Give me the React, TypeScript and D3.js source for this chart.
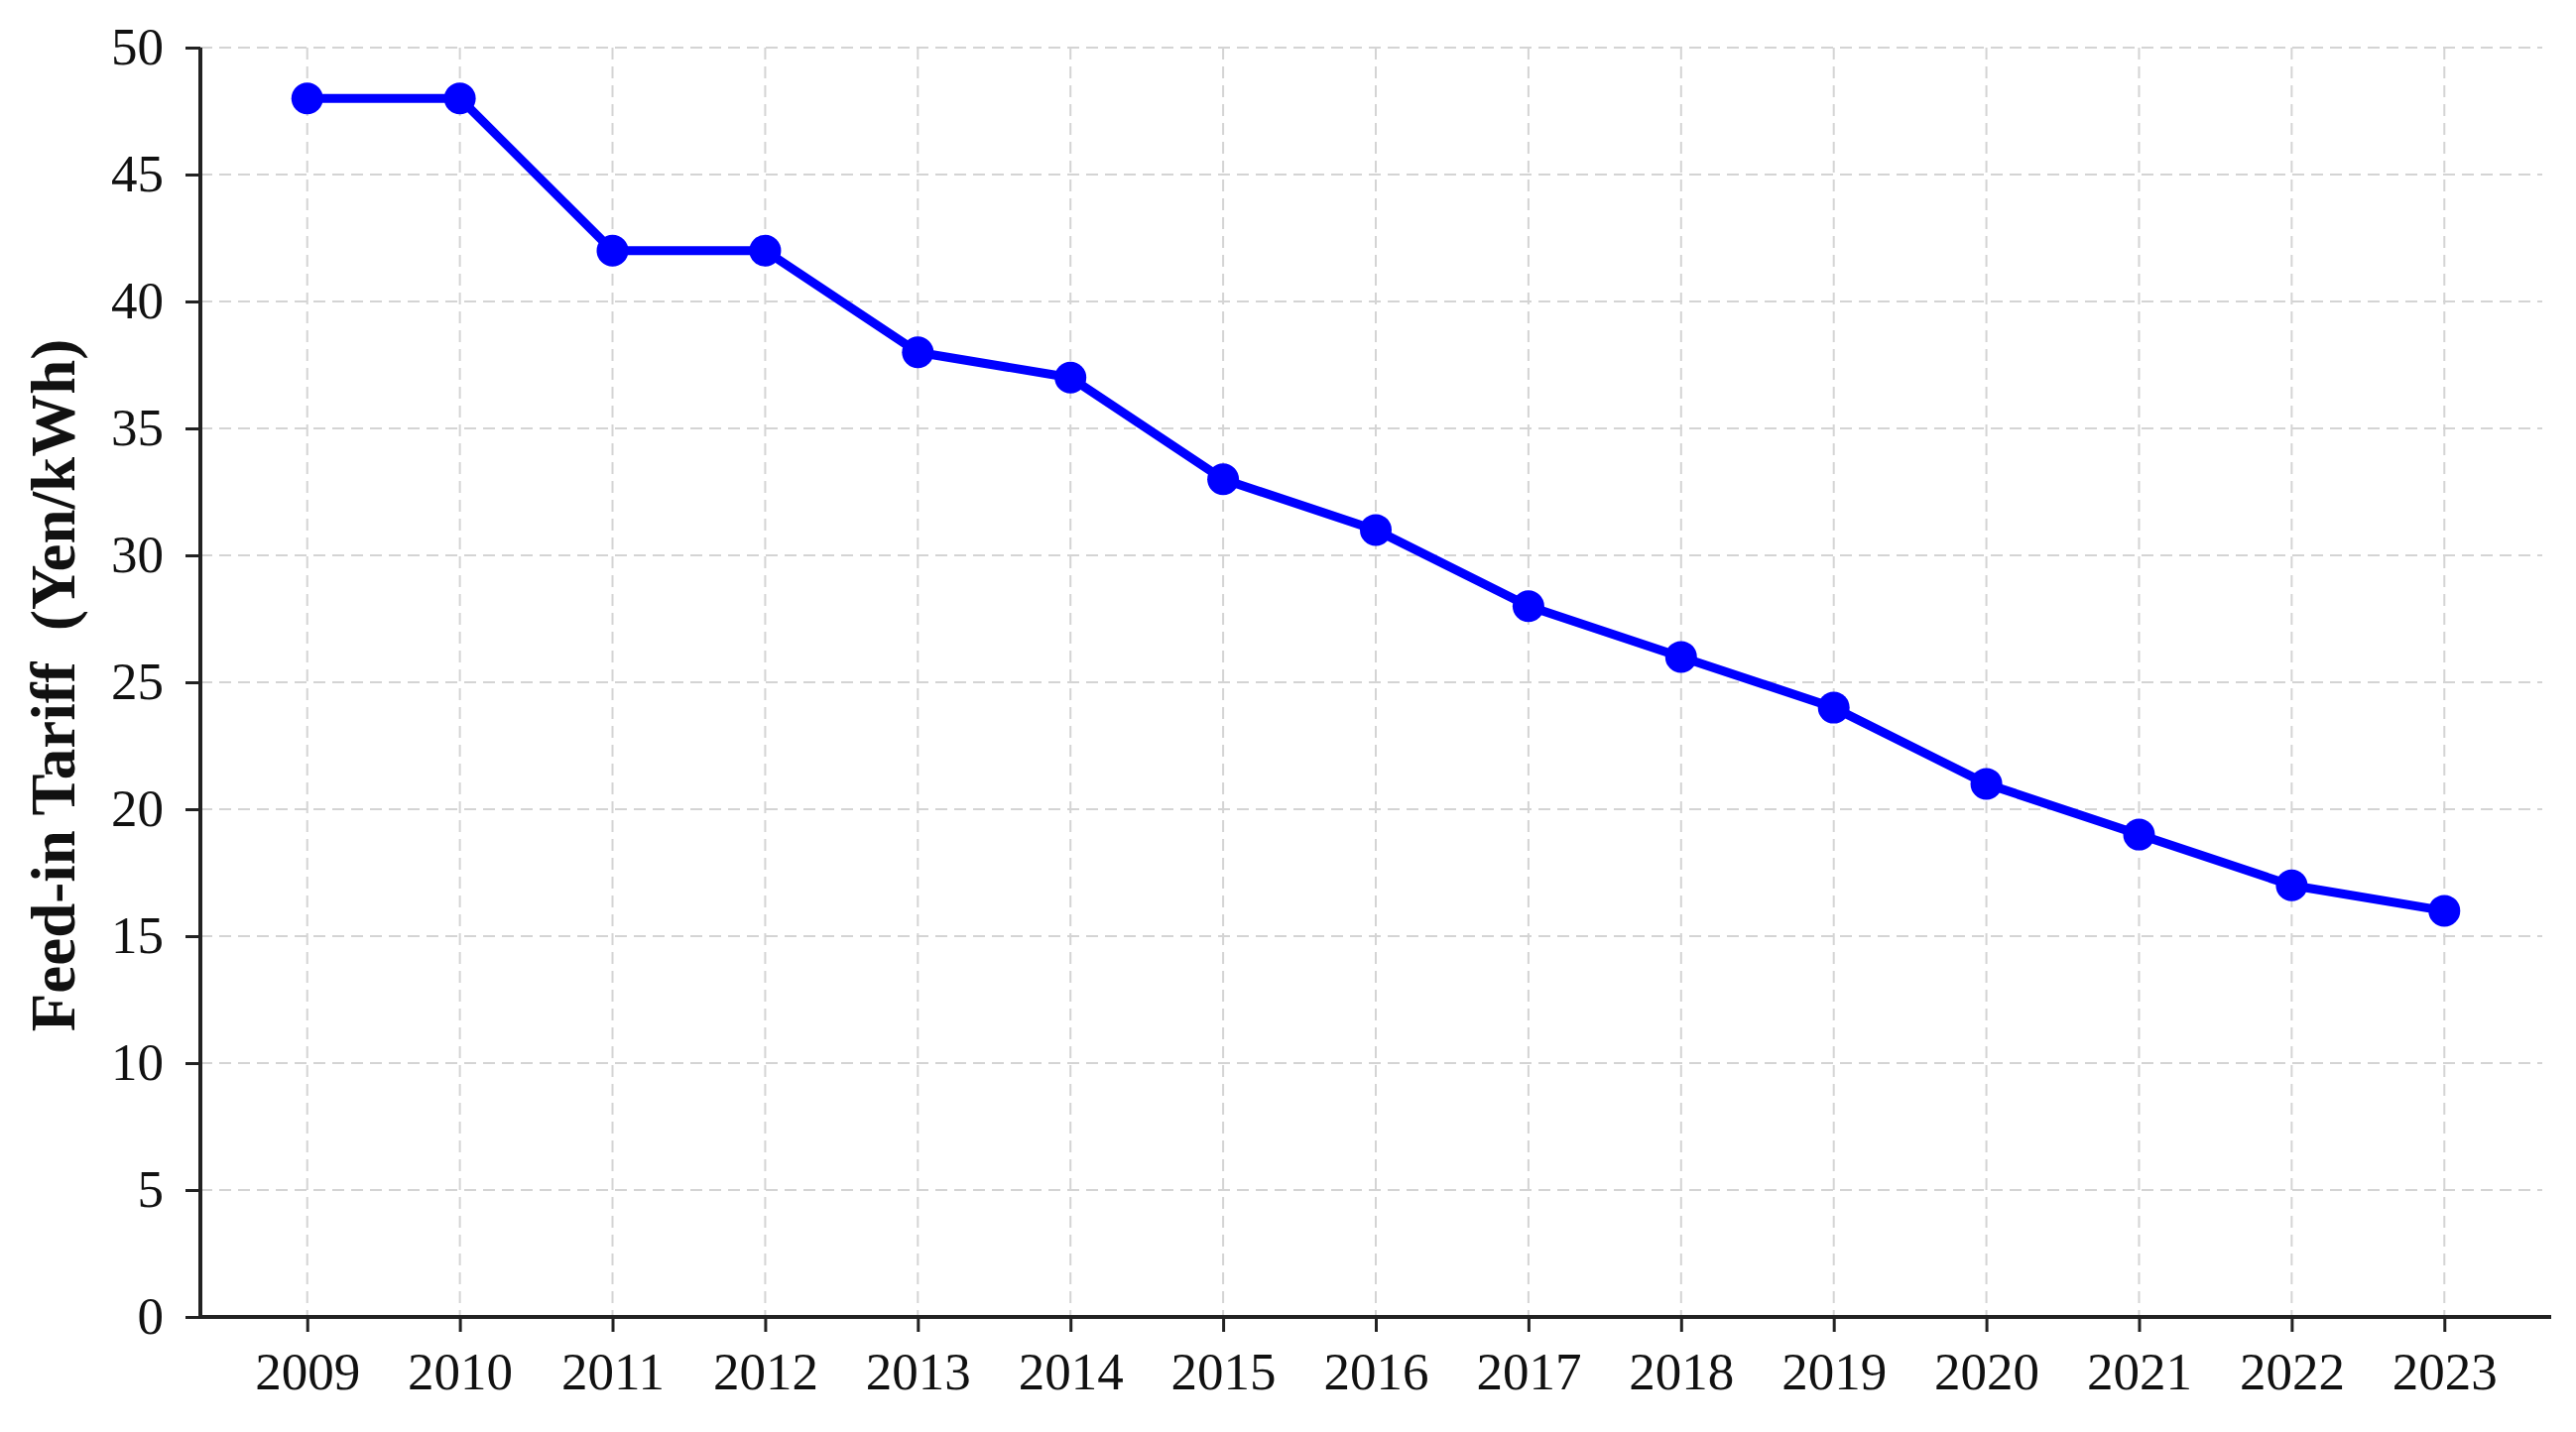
import React, { useEffect, useRef } from "react";
import * as d3 from "d3";

const years = [2009, 2010, 2011, 2012, 2013, 2014, 2015, 2016, 2017, 2018, 2019, 2020, 2021, 2022, 2023];
const tariffs = [48, 48, 42, 42, 38, 37, 33, 31, 28, 26, 24, 21, 19, 17, 16];
const yTicks = [0, 5, 10, 15, 20, 25, 30, 35, 40, 45, 50];
const yLabel = "Feed-in Tariff\u00a0\u00a0(Yen/kWh)";

const W = 2597;
const H = 1444;
const left = 202;
const right = 2572;
const top = 48;
const bottom = 1328;

export default function App() {
  const ref = useRef<SVGSVGElement>(null);

  useEffect(() => {
    document.body.style.margin = "0";
    const svg = d3.select(ref.current);
    svg.selectAll("*").remove();

    const x = d3.scaleLinear().domain([2009 - 0.7, 2023 + 0.7]).range([left, right]);
    const y = d3.scaleLinear().domain([0, 50]).range([bottom, top]);
    const font = "'Liberation Serif', 'Times New Roman', serif";

    // grid
    const grid = svg.append("g");
    grid.selectAll("line.h").data(yTicks.filter((t) => t > 0)).enter().append("line")
      .attr("x1", left).attr("x2", right - 9)
      .attr("y1", (d) => y(d)).attr("y2", (d) => y(d))
      .attr("stroke", "#d4d4d4").attr("stroke-width", 2).attr("stroke-dasharray", "12,7");
    grid.selectAll("line.v").data(years).enter().append("line")
      .attr("x1", (d) => x(d)).attr("x2", (d) => x(d))
      .attr("y1", top).attr("y2", bottom)
      .attr("stroke", "#d4d4d4").attr("stroke-width", 2).attr("stroke-dasharray", "12,7");

    // axes
    const xAxis = svg.append("g").attr("transform", `translate(0,${bottom})`)
      .call(d3.axisBottom(x).tickValues(years).tickFormat(d3.format("d")).tickSize(15).tickSizeOuter(0));
    const yAxis = svg.append("g").attr("transform", `translate(${left},0)`)
      .call(d3.axisLeft(y).tickValues(yTicks).tickSize(15).tickSizeOuter(0));
    for (const ax of [xAxis, yAxis]) {
      ax.select(".domain").attr("stroke", "#222").attr("stroke-width", 4);
      ax.selectAll(".tick line").attr("stroke", "#222").attr("stroke-width", 3);
      ax.selectAll(".tick text").attr("font-family", font).attr("font-size", 53).attr("fill", "#111");
    }
    xAxis.selectAll(".tick text").attr("dy", "0.71em").attr("y", 35);
    yAxis.selectAll(".tick text").attr("x", -37);
    yAxis.select(".domain").attr("d", `M0,${bottom}V${top}`);
    xAxis.select(".domain").attr("d", `M${left},0H${right}`);

    // line
    const line = d3.line<number>().x((_, i) => x(years[i])).y((d) => y(d));
    svg.append("path").datum(tariffs).attr("d", line)
      .attr("fill", "none").attr("stroke", "#0000ff").attr("stroke-width", 9)
      .attr("stroke-linejoin", "round");
    svg.selectAll("circle.pt").data(tariffs).enter().append("circle")
      .attr("cx", (_, i) => x(years[i])).attr("cy", (d) => y(d)).attr("r", 16)
      .attr("fill", "#0000ff");

    // y label
    svg.append("text")
      .attr("transform", `translate(54,${(top + bottom) / 2 + 3}) rotate(-90)`)
      .attr("text-anchor", "middle").attr("dominant-baseline", "central")
      .attr("font-family", font).attr("font-weight", "bold").attr("font-size", 63)
      .attr("fill", "#111")
      .text(yLabel);
  }, []);

  return <svg ref={ref} width={W} height={H} style={{ display: "block", background: "#fff" }} />;
}
